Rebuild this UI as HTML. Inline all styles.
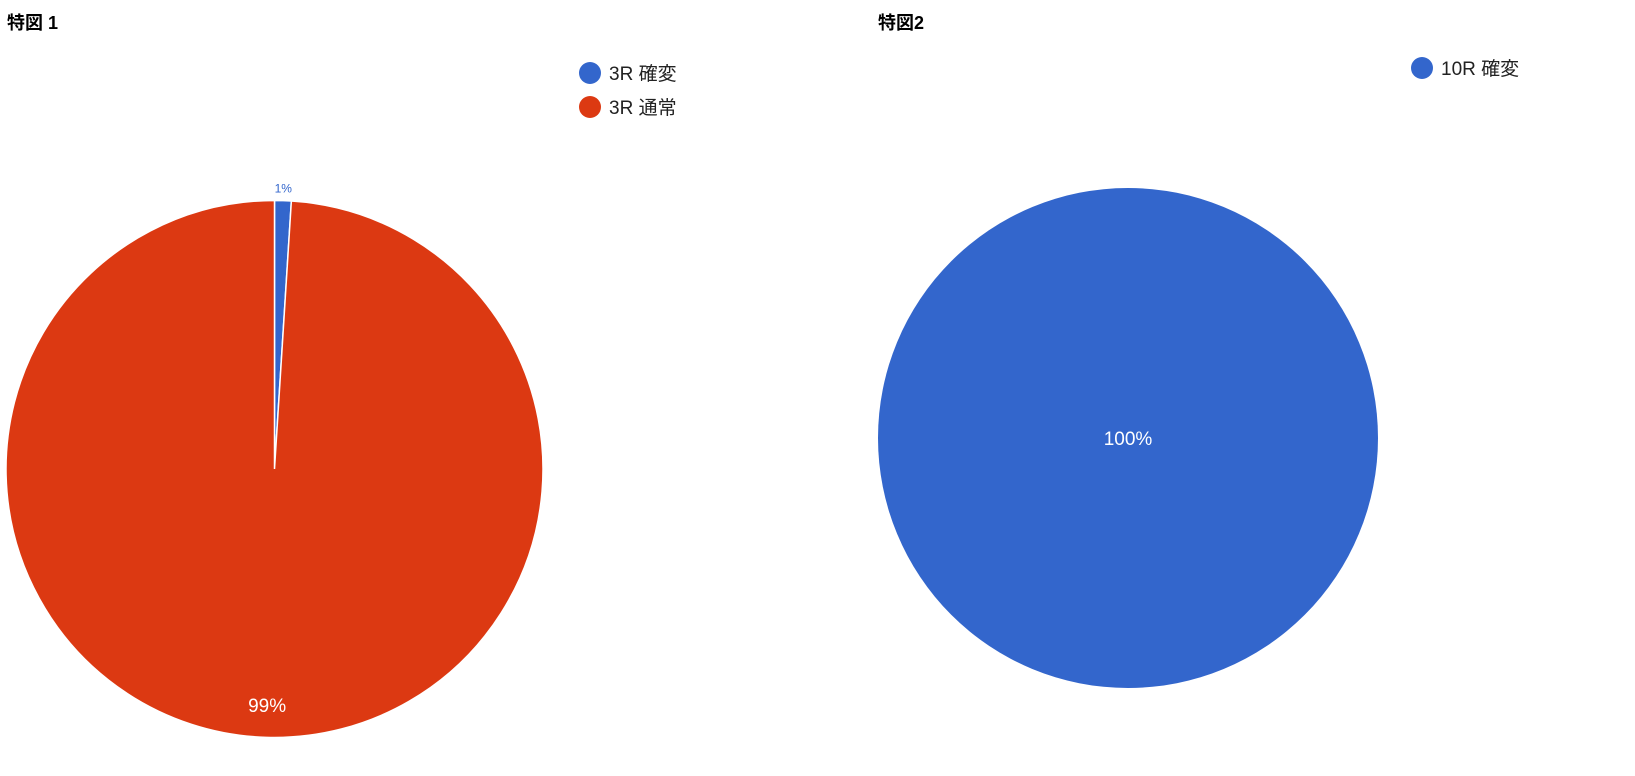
<!DOCTYPE html>
<html><head><meta charset="utf-8">
<style>
body{margin:0;background:#fff;width:1635px;height:776px;overflow:hidden;font-family:"Liberation Sans","Noto Sans CJK JP",sans-serif;}
svg{position:absolute;left:0;top:0;font-family:"Liberation Sans","Noto Sans CJK JP",sans-serif;}
</style></head>
<body>
<svg width="1635" height="776" id="chart" font-family="Liberation Sans, Noto Sans CJK JP, sans-serif">
<text x="7" y="29" font-size="18" font-weight="bold" fill="#000">特図 1</text>
<text x="878" y="29" font-size="18" font-weight="bold" fill="#000">特図2</text>
<g id="pie1"></g>
<g id="pie2"></g>
</svg>
<script>
const labels1 = ["3R 確変", "3R 通常"];
const values1 = [1, 99];
const labels2 = ["10R 確変"];
const values2 = [100];
const colors = ["#3366cc", "#dc3912"];
const NS = "http://www.w3.org/2000/svg";
function mk(tag, attrs, parent){const e=document.createElementNS(NS,tag);for(const k in attrs)e.setAttribute(k,attrs[k]);parent.appendChild(e);return e;}
function drawPie(g, labels, values, cx, cy, r, legendX, legendY, prefix){
  const total = values.reduce((a,b)=>a+b,0);
  let a0 = 0;
  values.forEach((v,i)=>{
    const frac = v/total, a1 = a0 + frac*2*Math.PI;
    let el;
    if(frac>=0.9999){
      el = mk("circle",{cx:cx,cy:cy,r:r,fill:colors[i]},g);
    } else {
      const x0=cx+r*Math.sin(a0), y0=cy-r*Math.cos(a0), x1=cx+r*Math.sin(a1), y1=cy-r*Math.cos(a1);
      el = mk("path",{d:`M${cx},${cy}L${x0},${y0}A${r},${r} 0 ${frac>0.5?1:0} 1 ${x1},${y1}Z`,fill:colors[i],stroke:"#fff","stroke-width":1.5},g);
    }
    
    
    const pct = Math.round(frac*100)+"%";
    const mid = (a0+a1)/2;
    let t;
    if(frac<0.05){
      t = mk("text",{x:cx+(r+12)*Math.sin(mid),y:cy-(r+12)*Math.cos(mid)+4,"font-size":12,fill:colors[i],"text-anchor":"middle"},g);
    } else if(frac>=0.9999){
      t = mk("text",{x:cx,y:cy+7,"font-size":19,fill:"#fff","text-anchor":"middle"},g);
    } else {
      const rr = r*0.88;
      t = mk("text",{x:cx+rr*Math.sin(mid),y:cy-rr*Math.cos(mid)+7,"font-size":19,fill:"#fff","text-anchor":"middle"},g);
    }
    t.textContent = pct;
    
    
    a0 = a1;
  });
  labels.forEach((l,i)=>{
    const y = legendY + i*34;
    const c = mk("circle",{cx:legendX,cy:y,r:11,fill:colors[i]},g);
    
    
    const t = mk("text",{x:legendX+19,y:y+7,"font-size":19,fill:"#222"},g);
    t.textContent = l;
    
    
  });
}
drawPie(document.getElementById("pie1"), labels1, values1, 274.5, 469, 268.5, 590, 73, "chart1");
drawPie(document.getElementById("pie2"), labels2, values2, 1128, 438, 250, 1422, 68, "chart2");
</script>
</body></html>
